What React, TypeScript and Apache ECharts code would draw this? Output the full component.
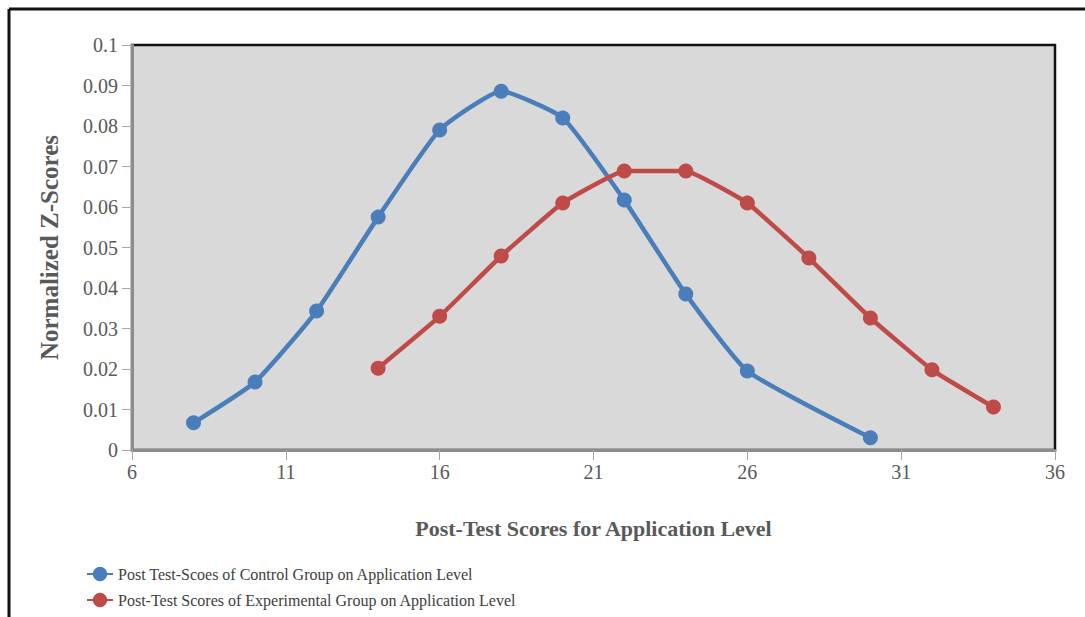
import React, { useEffect, useRef } from "react";
import * as echarts from "echarts";

const controlX = [8, 10, 12, 14, 16, 18, 20, 22, 24, 26, 30];
const controlY = [0.0067, 0.0168, 0.0343, 0.0575, 0.079, 0.0886, 0.082, 0.0617, 0.0385, 0.0195, 0.003];
const expX = [14, 16, 18, 20, 22, 24, 26, 28, 30, 32, 34];
const expY = [0.0202, 0.033, 0.0479, 0.061, 0.0689, 0.0689, 0.061, 0.0474, 0.0326, 0.0198, 0.0106];
const controlName = "Post Test-Scoes of Control Group on Application Level";
const expName = "Post-Test Scores of Experimental Group on Application Level";
const xTitle = "Post-Test Scores for Application Level";
const yTitle = "Normalized Z-Scores";

const FONT = "Liberation Serif";

export default function App() {
  const ref = useRef<HTMLDivElement>(null);
  useEffect(() => {
    if (!ref.current) return;
    const chart = echarts.init(ref.current, undefined, { renderer: "svg" });
    chart.setOption({
      animation: false,
      backgroundColor: "#ffffff",
      textStyle: { fontFamily: FONT },
      grid: {
        left: 132,
        top: 45,
        right: 30,
        bottom: 167,
        show: true,
        backgroundColor: "#d9d9d9",
        borderColor: "#111",
        borderWidth: 2.5,
      },
      xAxis: {
        type: "value",
        min: 6,
        max: 36,
        interval: 5,
        name: xTitle,
        nameLocation: "middle",
        nameGap: 67,
        nameTextStyle: { fontFamily: FONT, fontSize: 22, fontWeight: "bold", color: "#595959" },
        axisLine: { show: true, onZero: false, lineStyle: { color: "#8c8c8c", width: 3 } },
        axisTick: { show: true, length: 10, lineStyle: { color: "#a6a6a6", width: 1 } },
        axisLabel: { fontFamily: FONT, fontSize: 20, color: "#595959", margin: 12 },
        splitLine: { show: false },
      },
      yAxis: {
        type: "value",
        min: 0,
        max: 0.1,
        interval: 0.01,
        name: yTitle,
        nameLocation: "middle",
        nameGap: 70,
        nameRotate: 90,
        nameTextStyle: { fontFamily: FONT, fontSize: 25, fontWeight: "bold", color: "#595959" },
        axisLine: { show: true, lineStyle: { color: "#8c8c8c", width: 3 } },
        axisTick: { show: true, length: 10, lineStyle: { color: "#a6a6a6", width: 1 } },
        axisLabel: { fontFamily: FONT, fontSize: 20, color: "#595959", margin: 14 },
        splitLine: { show: false },
      },
      legend: {
        orient: "vertical",
        left: 86,
        top: 566,
        height: 51,
        padding: 0,
        itemGap: 10,
        itemWidth: 26,
        itemHeight: 18,
        textStyle: { fontFamily: FONT, fontSize: 16, color: "#404040" },
        data: [controlName, expName],
      },
      series: [
        {
          name: controlName,
          type: "line",
          smooth: 0.15,
          data: controlX.map((x, i) => [x, controlY[i]]),
          symbol: "circle",
          symbolSize: 15,
          lineStyle: { color: "#4a7ebb", width: 4.5 },
          itemStyle: { color: "#4a7ebb" },
        },
        {
          name: expName,
          type: "line",
          smooth: 0.1,
          data: expX.map((x, i) => [x, expY[i]]),
          symbol: "circle",
          symbolSize: 15,
          lineStyle: { color: "#be4b48", width: 4.5 },
          itemStyle: { color: "#be4b48" },
        },
      ],
      graphic: [
        { type: "line", shape: { x1: 9, y1: 9, x2: 1085, y2: 9 }, style: { stroke: "#111", lineWidth: 3 } },
        { type: "line", shape: { x1: 9, y1: 9, x2: 9, y2: 617 }, style: { stroke: "#111", lineWidth: 3 } },
      ],
    });
    return () => chart.dispose();
  }, []);
  return (
    <div
      ref={ref}
      style={{ position: "absolute", left: 0, top: 0, width: 1085, height: 617 }}
    />
  );
}
